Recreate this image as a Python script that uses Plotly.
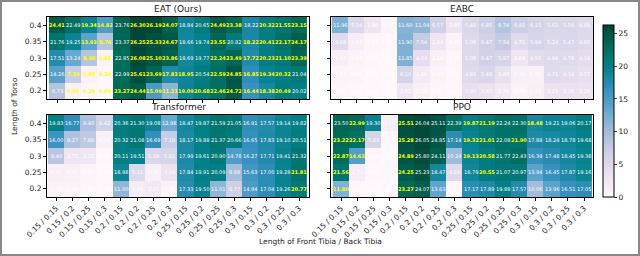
import plotly.graph_objects as go

torso = ["0.4", "0.35", "0.3", "0.25", "0.2"]
tibia = ["0.15 / 0.15", "0.15 / 0.2", "0.15 / 0.25", "0.15 / 0.3",
         "0.2 / 0.15", "0.2 / 0.2", "0.2 / 0.25", "0.2 / 0.3",
         "0.25 / 0.15", "0.25 / 0.2", "0.25 / 0.25", "0.25 / 0.3",
         "0.3 / 0.15", "0.3 / 0.2", "0.3 / 0.25", "0.3 / 0.3"]

eat = [
    [24.41, 22.49, 19.34, 14.82, 23.76, 26.30, 26.19, 24.07, 18.84, 20.65, 24.49, 23.38, 18.22, 20.32, 21.55, 23.15],
    [21.76, 19.25, 13.93, 8.76, 23.37, 26.25, 25.33, 24.67, 18.66, 19.74, 23.55, 20.82, 18.22, 20.41, 22.17, 24.17],
    [17.51, 13.24, 8.66, 0.86, 22.85, 26.08, 25.10, 23.86, 18.69, 19.77, 22.24, 23.49, 17.72, 20.23, 21.10, 23.39],
    [14.26, 7.29, 0.80, 0.20, 22.99, 25.61, 23.69, 17.83, 18.95, 20.54, 22.59, 24.85, 16.85, 19.34, 20.32, 21.04],
    [8.73, 0.89, 0.29, 0.09, 23.27, 24.44, 15.09, 11.21, 19.09, 20.68, 22.46, 24.72, 16.44, 18.38, 20.49, 20.02],
]
eabc = [
    [11.96, 5.14, 2.86, 0.70, 11.60, 11.04, 6.57, 2.95, 5.40, 6.85, 8.74, 6.92, 6.15, 5.63, 5.56, 4.98],
    [4.68, 1.63, 0.51, 0.13, 11.90, 7.54, 2.84, 0.80, 5.06, 6.47, 7.54, 4.71, 5.94, 5.29, 5.47, 4.80],
    [1.47, 0.69, 0.28, 0.07, 11.85, 4.03, 1.14, 0.29, 5.05, 6.47, 5.87, 2.64, 4.50, 4.94, 4.78, 4.16],
    [0.61, 0.40, 0.16, 0.06, 6.10, 1.96, 0.63, 0.16, 4.85, 5.49, 3.49, 1.16, 1.02, 4.71, 4.34, 3.77],
    [0.38, 0.22, 0.09, 0.03, 2.62, 1.05, 0.39, 0.10, 3.90, 3.43, 2.34, 0.76, 1.42, 3.23, 3.39, 3.20],
]
transformer = [
    [19.83, 16.77, 9.40, 6.42, 20.36, 21.30, 19.08, 12.98, 18.47, 19.87, 21.59, 21.05, 16.91, 17.57, 19.14, 19.82],
    [16.00, 9.27, 7.86, 1.09, 20.32, 21.08, 16.69, 7.18, 18.17, 19.88, 21.37, 20.66, 16.65, 17.83, 19.10, 20.51],
    [8.40, 2.75, 2.72, 0.35, 20.11, 19.51, 5.38, 5.81, 17.99, 19.61, 20.90, 14.78, 16.27, 17.71, 19.41, 21.32],
    [1.45, 1.15, 0.52, 0.16, 18.98, 5.11, 1.20, 3.34, 17.84, 19.91, 20.09, 9.88, 15.63, 17.00, 19.28, 21.81],
    [0.78, 0.58, 0.25, 0.08, 11.00, 1.66, 2.37, 0.76, 17.33, 19.50, 11.01, 6.77, 14.94, 17.04, 19.26, 20.77],
]
ppo = [
    [23.50, 22.99, 19.30, 1.45, 25.51, 26.04, 25.11, 22.39, 19.87, 21.19, 22.24, 22.30, 18.48, 19.21, 19.06, 20.17],
    [23.22, 22.17, 5.83, 0.08, 25.28, 26.05, 24.85, 17.14, 19.32, 21.01, 22.08, 21.90, 17.88, 18.24, 18.78, 19.68],
    [22.87, 14.63, 0.24, 0.05, 24.89, 25.80, 24.11, 10.24, 19.13, 20.58, 21.77, 22.43, 16.39, 17.48, 18.45, 19.38],
    [21.56, 1.75, 0.15, 0.11, 24.25, 25.23, 18.47, 4.89, 18.79, 20.55, 21.07, 20.97, 13.94, 16.45, 17.87, 19.16],
    [11.80, 0.23, 0.04, 0.01, 23.27, 24.07, 13.63, 0.19, 17.17, 17.89, 19.88, 17.57, 10.06, 13.96, 16.51, 17.05],
]

titles = ["EAT (Ours)", "EABC", "Transformer", "PPO"]
datasets = [eat, eabc, transformer, ppo]

zmax = max(v for d in datasets for row in d for v in row)

W, H = 640, 256


def px(x):
    return x / W


def py(y):
    return 1 - y / H


# panel boxes in pixels (left, top, right, bottom)
boxes = [(47, 17, 309, 99), (331, 17, 593, 99), (47, 115, 309, 197), (331, 115, 593, 197)]

fig = go.Figure()
annotations = []
FONT = "DejaVu Sans"
TXT = "#1a1a1a"

for k, (title, data, box) in enumerate(zip(titles, datasets, boxes)):
    sfx = "" if k == 0 else str(k + 1)
    fig.add_trace(go.Heatmap(
        z=data, x=tibia, y=torso, coloraxis="coloraxis",
        xaxis="x" + sfx, yaxis="y" + sfx, hoverinfo="skip"))
    l, t, r, b = box
    xd = [px(l), px(r)]
    yd = [py(b), py(t)]
    common = dict(showline=True, mirror=True, linecolor="black", linewidth=1,
                  ticks="outside", ticklen=3, tickcolor="black", showgrid=False,
                  zeroline=False, automargin=False,
                  tickfont=dict(family=FONT, size=7.5, color=TXT))
    fig.layout["xaxis" + sfx] = dict(domain=xd, anchor="y" + sfx, type="category",
                                     showticklabels=(k >= 2), tickangle=-45, **common)
    fig.layout["yaxis" + sfx] = dict(domain=yd, anchor="x" + sfx, type="category",
                                     autorange="reversed", showticklabels=(k % 2 == 0), **common)
    annotations.append(dict(text=title, x=(xd[0] + xd[1]) / 2, y=yd[1], xref="paper", yref="paper",
                            yanchor="bottom", xanchor="center", showarrow=False, yshift=1,
                            font=dict(family=FONT, size=9, color=TXT)))
    for i, row in enumerate(data):
        for j, v in enumerate(row):
            best = max(d[i][j] for d in datasets)
            is_best = v == best
            annotations.append(dict(
                text=("<b>%.2f</b>" % v) if is_best else "%.2f" % v,
                x=j, y=i, xref="x" + sfx, yref="y" + sfx, showarrow=False,
                font=dict(family=FONT, size=5, color="#ffff00" if is_best else "#ffffff")))

annotations.append(dict(text="Length of Torso", x=px(14), y=py(106), xref="paper", yref="paper",
                        textangle=-90, showarrow=False, xanchor="center", yanchor="middle",
                        font=dict(family=FONT, size=7.5, color=TXT)))
annotations.append(dict(text="Length of Front Tibia / Back Tibia", x=px(320), y=py(241),
                        xref="paper", yref="paper", showarrow=False, xanchor="center", yanchor="middle",
                        font=dict(family=FONT, size=7.5, color=TXT)))

fig.update_layout(
    width=W, height=H, margin=dict(l=0, r=0, t=0, b=0, autoexpand=False),
    paper_bgcolor="white", plot_bgcolor="white",
    annotations=annotations,
    coloraxis=dict(colorscale="PuBuGn", cmin=0, cmax=zmax,
                   colorbar=dict(x=px(603), xanchor="left", y=py(111), yanchor="middle",
                                 len=172 / H, lenmode="fraction", thickness=11, thicknessmode="pixels",
                                 outlinecolor="black", outlinewidth=1, ticks="outside", ticklen=3,
                                 xpad=0, ypad=0,
                                 tickvals=[0, 5, 10, 15, 20, 25],
                                 tickfont=dict(family=FONT, size=7.5, color=TXT))),
    shapes=[dict(type="rect", xref="paper", yref="paper", x0=px(1), y0=py(255), x1=px(639),
                 y1=py(1), line=dict(color="#888", width=2))],
    showlegend=False,
)

fig.write_html("out.html", config={"displayModeBar": False},
               post_script="document.body.style.margin='0';document.body.style.padding='0';")
